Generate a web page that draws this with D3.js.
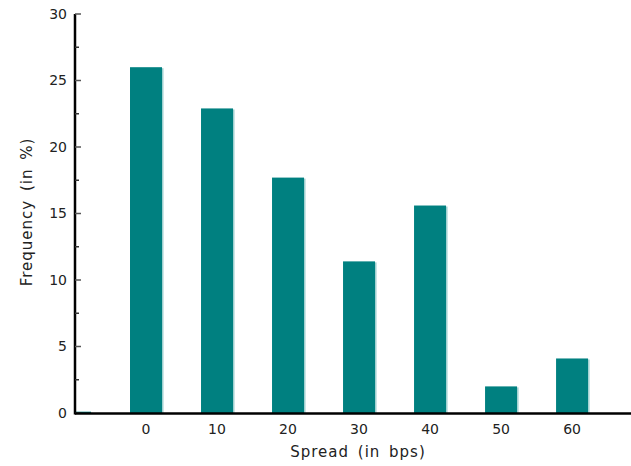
<!DOCTYPE html>
<html><head><meta charset="utf-8">
<script src="https://cdn.jsdelivr.net/npm/d3@7"></script>
<style>body{margin:0;background:#fff;} text{font-family:"DejaVu Sans",sans-serif;fill:#222;}</style>
</head><body>
<svg id="c" width="631" height="466"></svg>
<script>
const categories = [-10, 0, 10, 20, 30, 40, 50, 60];
const frequency = [0.1, 26.0, 22.9, 17.7, 11.4, 15.6, 2.0, 4.1];
const xTickLabels = [0, 10, 20, 30, 40, 50, 60];
const yTickLabels = [0, 5, 10, 15, 20, 25, 30];

const svg = d3.select("#c");
const pL = 75, pR = 631, pT = 14, pB = 413;
const x = d3.scaleLinear().domain([-10, 68.3]).range([pL, pR]);
const y = d3.scaleLinear().domain([0, 30]).range([pB, pT]);
const bw = 32;

svg.append("defs").append("clipPath").attr("id","clip")
  .append("rect").attr("x", pL).attr("y", 0).attr("width", pR-pL).attr("height", pB);

const g = svg.append("g").attr("clip-path","url(#clip)");
categories.forEach((c,i)=>{
  g.append("rect").attr("x", x(c)-bw/2).attr("y", y(frequency[i]))
   .attr("width", bw).attr("height", y(0)-y(frequency[i])).attr("fill","#008080");
  g.append("rect").attr("x", x(c)+bw/2).attr("y", y(frequency[i])+1)
   .attr("width", 1.5).attr("height", y(0)-y(frequency[i])-1).attr("fill","#9fd0d0");
});

// y axis
const yAxis = svg.append("g");
yAxis.append("line").attr("x1",pL).attr("x2",pL).attr("y1",pT).attr("y2",pB+1.5)
  .attr("stroke","#000").attr("stroke-width",2.5);
d3.range(0, 30.01, 2.5).forEach(v=>{
  const major = v % 5 === 0;
  yAxis.append("line").attr("x1",pL).attr("x2",pL+(major?6:4)).attr("y1",y(v)).attr("y2",y(v))
    .attr("stroke", major?"#555":"#333").attr("stroke-width",1.5);
});
yTickLabels.forEach(v=>{
  yAxis.append("text").attr("x",pL-8).attr("y",y(v)).attr("dy","0.35em")
    .attr("text-anchor","end").attr("font-size",14).text(v);
});

// x axis
svg.append("line").attr("x1",pL).attr("x2",pR).attr("y1",pB+0.5).attr("y2",pB+0.5)
  .attr("stroke","#000").attr("stroke-width",2.5);
xTickLabels.forEach(v=>{
  svg.append("text").attr("x",x(v)).attr("y",434).attr("text-anchor","middle")
    .attr("font-size",14).text(v);
});

svg.append("text").attr("x",358).attr("y",457).attr("text-anchor","middle")
  .attr("font-size",15).attr("letter-spacing","1").attr("word-spacing","3").text("Spread (in bps)");
svg.append("text").attr("transform","translate(32,212) rotate(-90)").attr("text-anchor","middle")
  .attr("font-size",15).attr("letter-spacing","1").attr("word-spacing","3").text("Frequency (in %)");
</script>
</body></html>
